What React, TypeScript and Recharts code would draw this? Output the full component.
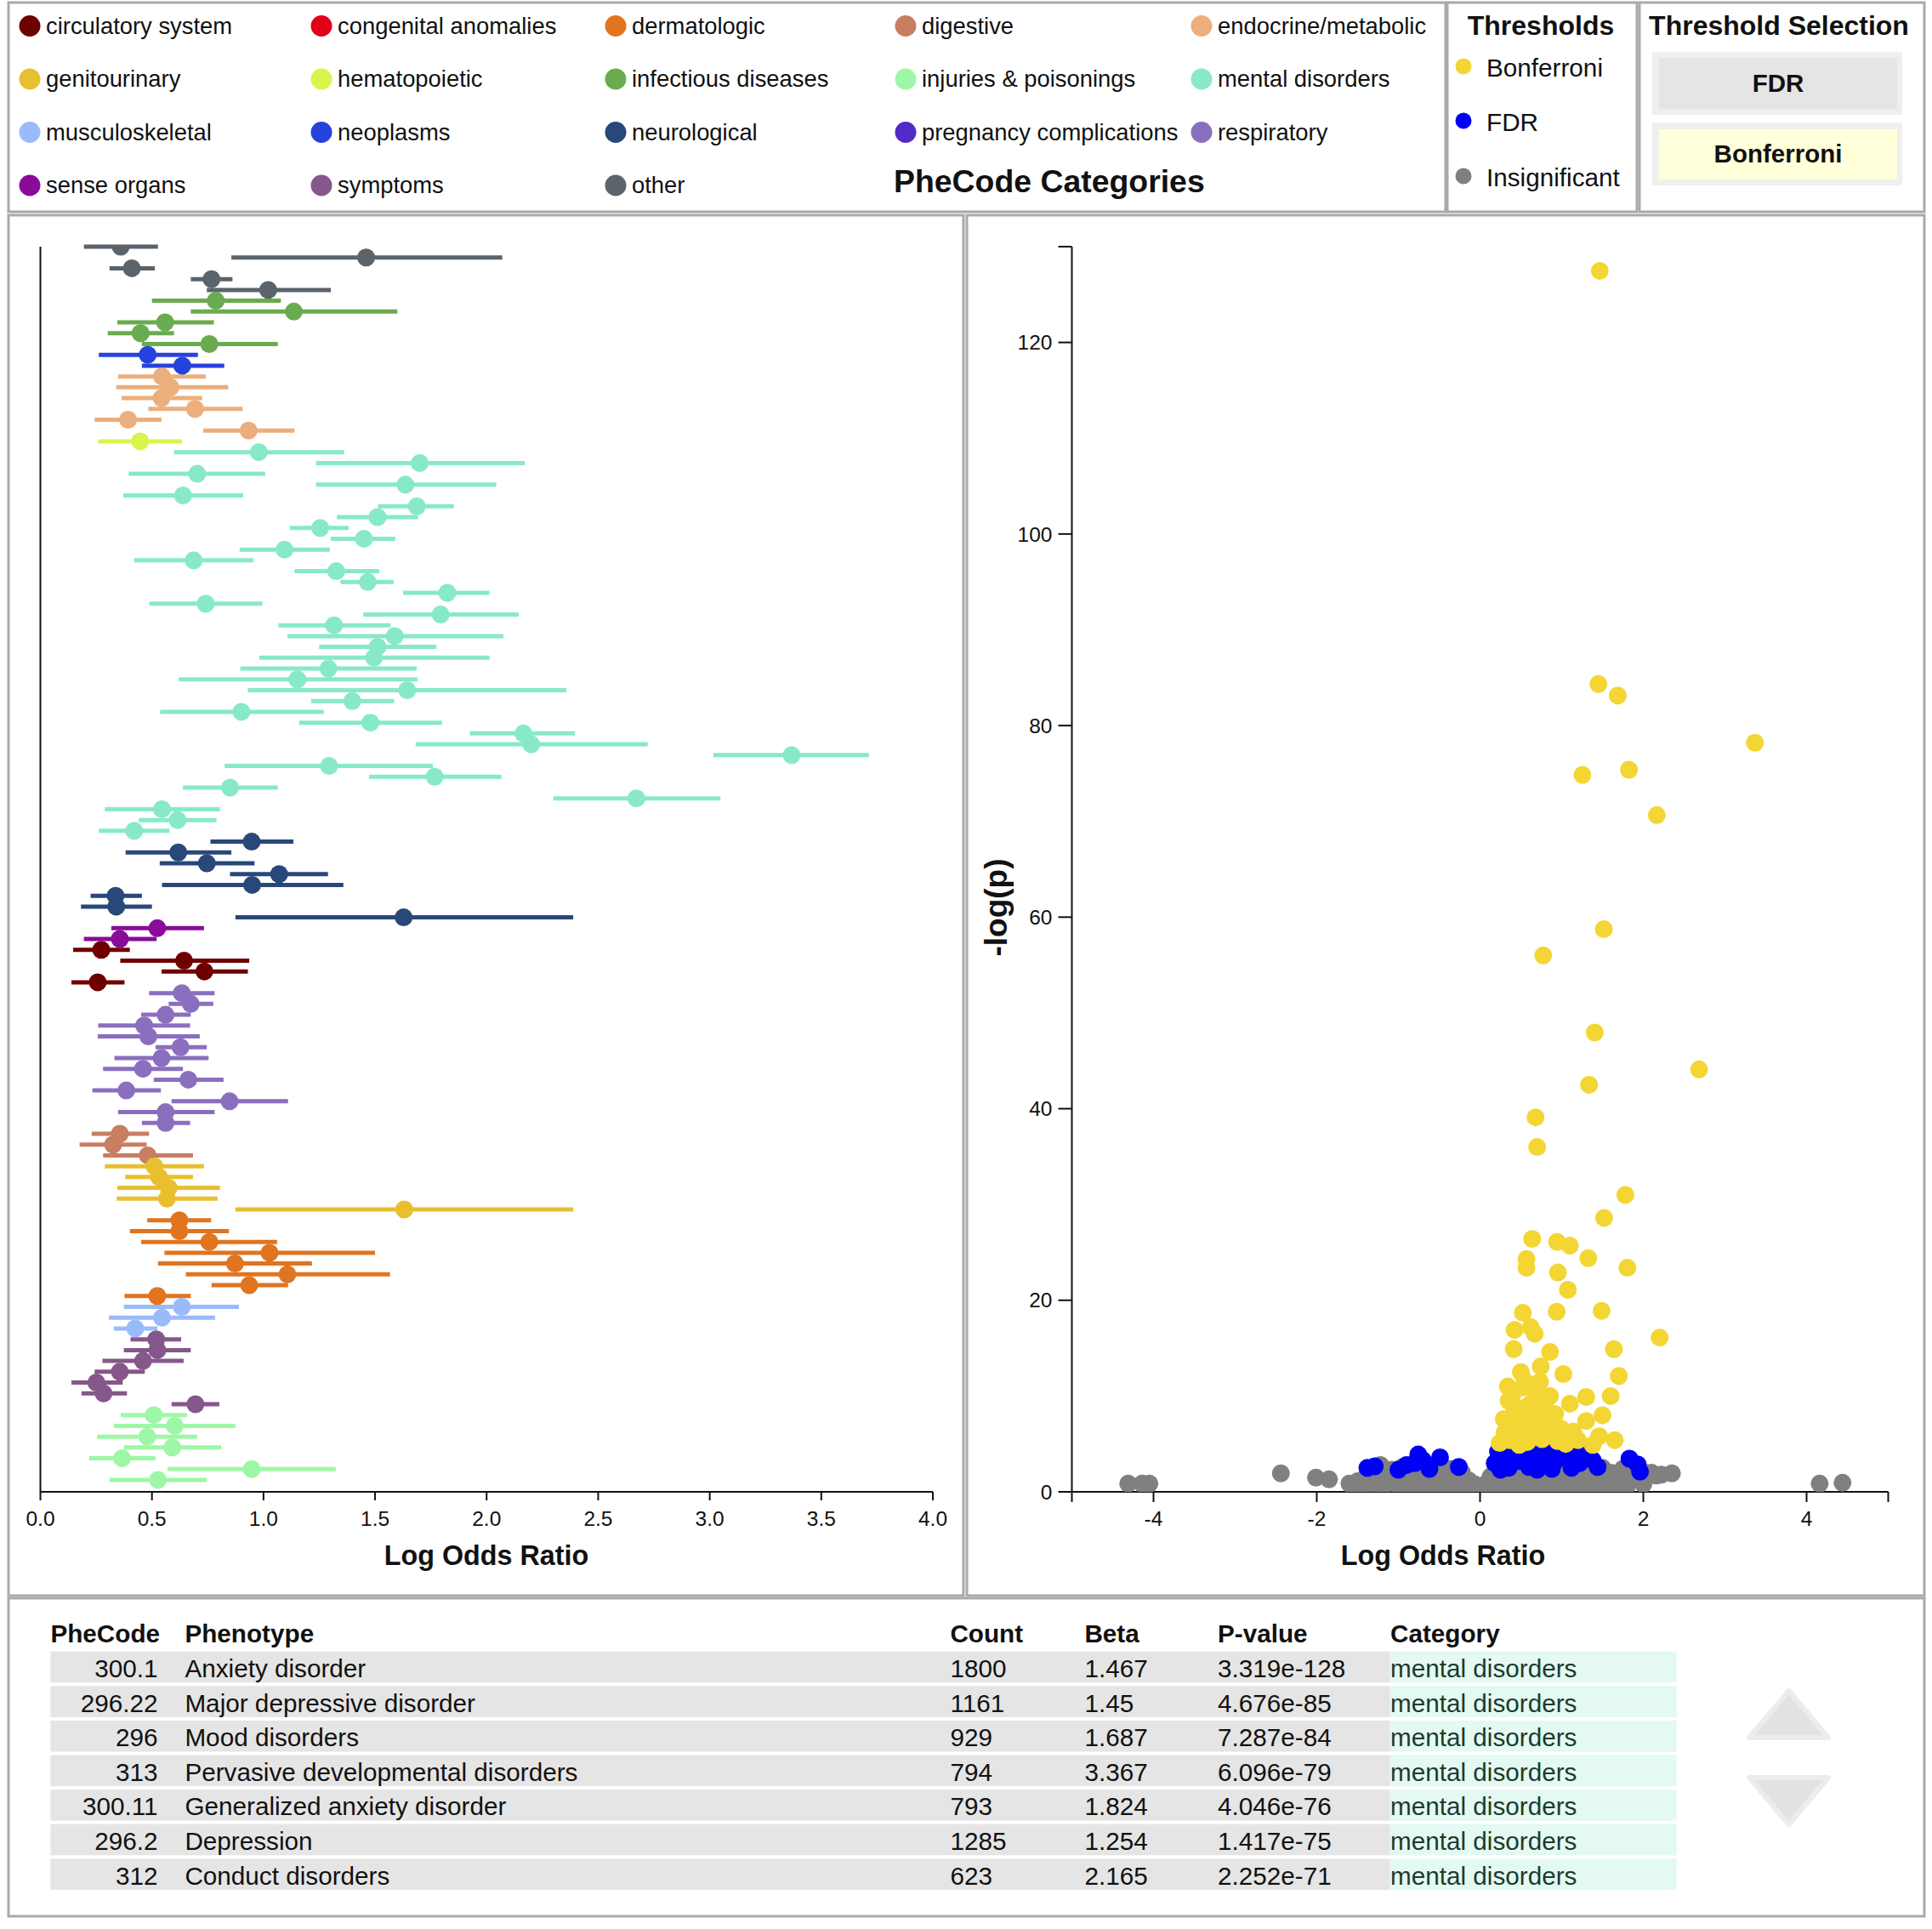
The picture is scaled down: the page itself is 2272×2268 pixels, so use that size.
import React from 'react';
import { ScatterChart, Scatter, XAxis, YAxis, ErrorBar } from 'recharts';

const FONT = '"Liberation Sans", Arial, Helvetica, sans-serif';
const INK = '#111111';

// ---------- categories ----------
const categoryNames = [
  'circulatory system', 'congenital anomalies', 'dermatologic', 'digestive', 'endocrine/metabolic',
  'genitourinary', 'hematopoietic', 'infectious diseases', 'injuries & poisonings', 'mental disorders',
  'musculoskeletal', 'neoplasms', 'neurological', 'pregnancy complications', 'respiratory',
  'sense organs', 'symptoms', 'other',
];
const categoryColors = [
  '#6e0000', '#e00018', '#e0741f', '#c87e63', '#ecae7c',
  '#e8bf2f', '#d7f54a', '#6aab50', '#9ef7a6', '#87e9ca',
  '#99bbfb', '#2543dc', '#28487a', '#522ac8', '#8b6fbf',
  '#8a0a99', '#86578a', '#5b636b',
];

// ---------- forest plot rows (top to bottom) ----------
const forestCategory = [
  'other', 'other', 'other', 'other', 'other',
  'infectious diseases', 'infectious diseases', 'infectious diseases', 'infectious diseases', 'infectious diseases',
  'neoplasms', 'neoplasms',
  'endocrine/metabolic', 'endocrine/metabolic', 'endocrine/metabolic', 'endocrine/metabolic', 'endocrine/metabolic', 'endocrine/metabolic',
  'hematopoietic',
  'mental disorders', 'mental disorders', 'mental disorders', 'mental disorders', 'mental disorders', 'mental disorders',
  'mental disorders', 'mental disorders', 'mental disorders', 'mental disorders', 'mental disorders', 'mental disorders',
  'mental disorders', 'mental disorders', 'mental disorders', 'mental disorders', 'mental disorders', 'mental disorders',
  'mental disorders', 'mental disorders', 'mental disorders', 'mental disorders', 'mental disorders', 'mental disorders',
  'mental disorders', 'mental disorders', 'mental disorders', 'mental disorders', 'mental disorders', 'mental disorders',
  'mental disorders', 'mental disorders', 'mental disorders', 'mental disorders', 'mental disorders', 'mental disorders',
  'neurological', 'neurological', 'neurological', 'neurological', 'neurological', 'neurological', 'neurological', 'neurological',
  'sense organs', 'sense organs',
  'circulatory system', 'circulatory system', 'circulatory system', 'circulatory system',
  'respiratory', 'respiratory', 'respiratory', 'respiratory', 'respiratory', 'respiratory', 'respiratory',
  'respiratory', 'respiratory', 'respiratory', 'respiratory', 'respiratory', 'respiratory',
  'digestive', 'digestive', 'digestive',
  'genitourinary', 'genitourinary', 'genitourinary', 'genitourinary', 'genitourinary',
  'dermatologic', 'dermatologic', 'dermatologic', 'dermatologic', 'dermatologic', 'dermatologic', 'dermatologic', 'dermatologic',
  'musculoskeletal', 'musculoskeletal', 'musculoskeletal',
  'symptoms', 'symptoms', 'symptoms', 'symptoms', 'symptoms', 'symptoms', 'symptoms',
  'injuries & poisonings', 'injuries & poisonings', 'injuries & poisonings', 'injuries & poisonings',
  'injuries & poisonings', 'injuries & poisonings', 'injuries & poisonings',
];
const forestBeta = [
  0.36, 1.46, 0.41, 0.767, 1.021,
  0.786, 1.136, 0.559, 0.449, 0.757,
  0.481, 0.636,
  0.545, 0.583, 0.543, 0.693, 0.393, 0.933,
  0.447,
  0.979, 1.70, 0.703, 1.636, 0.639, 1.687, 1.511, 1.254, 1.45, 1.094, 0.687, 1.326,
  1.467, 1.824, 0.741, 1.794, 1.316, 1.588, 1.511, 1.495, 1.291, 1.152, 1.644, 1.398,
  0.901, 1.479, 2.165, 2.20, 3.367, 1.294, 1.767, 0.85, 2.671, 0.545, 0.615, 0.42,
  0.947, 0.618, 0.746, 1.07, 0.949, 0.337, 0.34, 1.628,
  0.524, 0.356,
  0.273, 0.644, 0.735, 0.257,
  0.634, 0.674, 0.561, 0.465, 0.484, 0.628, 0.543, 0.46, 0.663, 0.385, 0.848, 0.561, 0.561,
  0.356, 0.326, 0.481,
  0.511, 0.532, 0.575, 0.567, 1.631,
  0.623, 0.623, 0.757, 1.027, 0.872, 1.107, 0.936, 0.524,
  0.634, 0.545, 0.425,
  0.519, 0.524, 0.46, 0.356, 0.251, 0.283, 0.695,
  0.508, 0.602, 0.479, 0.591, 0.366, 0.947, 0.527,
];
const forestLow = [
  0.195, 0.856, 0.31, 0.674, 0.746,
  0.5, 0.674, 0.345, 0.302, 0.455,
  0.262, 0.455,
  0.348, 0.34, 0.364, 0.484, 0.243, 0.73,
  0.259,
  0.599, 1.235, 0.396, 1.235, 0.372, 1.513, 1.329, 1.118, 1.302, 0.893, 0.42, 1.139,
  1.345, 1.626, 0.489, 1.447, 1.067, 1.107, 1.249, 0.981, 0.896, 0.62, 0.93, 1.214,
  0.537, 1.16, 1.925, 1.682, 3.016, 0.826, 1.473, 0.639, 2.299, 0.289, 0.441, 0.262,
  0.762, 0.382, 0.535, 0.85, 0.545, 0.225, 0.182, 0.874,
  0.318, 0.195,
  0.147, 0.358, 0.543, 0.139,
  0.487, 0.575, 0.452, 0.259, 0.257, 0.516, 0.332, 0.281, 0.508, 0.233, 0.588, 0.348, 0.455,
  0.23, 0.176, 0.281,
  0.289, 0.38, 0.345, 0.342, 0.874,
  0.479, 0.401, 0.452, 0.556, 0.527, 0.652, 0.767, 0.377,
  0.374, 0.307, 0.329,
  0.404, 0.374, 0.278, 0.243, 0.139, 0.184, 0.588,
  0.36, 0.329, 0.254, 0.374, 0.219, 0.57, 0.31,
];
const forestHigh = [
  0.527, 2.07, 0.513, 0.861, 1.302,
  1.078, 1.6, 0.778, 0.599, 1.064,
  0.706, 0.824,
  0.741, 0.842, 0.725, 0.906, 0.543, 1.139,
  0.634,
  1.361, 2.171, 1.008, 2.043, 0.909, 1.853, 1.693, 1.382, 1.591, 1.297, 0.955, 1.519,
  1.583, 2.013, 0.995, 2.144, 1.57, 2.075, 1.775, 2.013, 1.687, 1.69, 2.358, 1.586,
  1.27, 1.8, 2.396, 2.722, 3.714, 1.759, 2.067, 1.064, 3.048, 0.805, 0.789, 0.578,
  1.134, 0.856, 0.96, 1.289, 1.358, 0.455, 0.5, 2.388,
  0.733, 0.521,
  0.401, 0.936, 0.93, 0.377,
  0.781, 0.775, 0.674, 0.671, 0.714, 0.746, 0.754, 0.639, 0.821, 0.54, 1.11, 0.781, 0.671,
  0.487, 0.476, 0.684,
  0.733, 0.684, 0.805, 0.794, 2.388,
  0.765, 0.845, 1.061, 1.5, 1.217, 1.567, 1.11, 0.674,
  0.89, 0.783, 0.524,
  0.631, 0.674, 0.642, 0.468, 0.369, 0.388, 0.802,
  0.658, 0.874, 0.703, 0.81, 0.516, 1.324, 0.746,
];
const forestTicks = [0, 0.5, 1, 1.5, 2, 2.5, 3, 3.5, 4];

// ---------- volcano plot ----------
const volcanoBonferroni: [number, number][] = [
  [1.467, 127.48], [1.45, 84.33], [1.687, 83.14], [3.367, 78.21], [1.824, 75.39], [1.254, 74.85], [2.165, 70.65],
  [1.516, 58.75], [0.774, 56.0], [1.405, 47.96], [2.683, 44.1], [1.336, 42.5], [0.68, 39.1], [0.70, 36.0],
  [1.78, 31.0], [1.52, 28.6], [0.638, 26.4], [0.944, 26.1], [1.10, 25.7], [1.326, 24.4], [0.569, 24.3],
  [0.569, 23.4], [0.954, 22.9], [1.805, 23.4], [1.076, 21.1], [0.524, 18.7], [0.94, 18.8], [1.489, 18.9],
  [2.20, 16.1], [0.423, 16.9], [0.62, 17.2], [0.67, 16.5], [0.413, 14.9], [0.857, 14.6], [1.64, 14.9],
  [0.744, 13.1], [1.02, 12.3], [1.70, 12.1], [0.545, 11.6], [0.735, 11.5], [0.525, 10.9], [0.70, 10.7],
  [0.857, 10.0], [1.30, 9.9], [1.60, 10.0], [0.69, 10.0], [0.35, 9.5], [0.42, 8.8], [0.55, 8.8], [0.73, 8.4],
  [1.50, 8.0], [0.29, 7.6], [0.60, 7.8], [0.45, 7.2], [1.30, 7.4], [0.99, 6.6], [1.14, 6.3], [1.46, 5.8],
  [1.65, 5.4], [0.24, 5.1], [0.40, 6.5], [0.52, 6.0], [0.65, 6.8], [0.80, 7.0], [0.88, 6.0], [0.36, 5.4],
  [0.58, 5.2], [0.76, 5.5], [0.95, 5.3], [1.05, 5.0], [0.48, 4.9], [0.30, 6.2], [0.62, 9.2], [0.80, 9.0],
  [0.92, 8.1], [0.40, 10.2], [0.50, 12.5], [0.34, 11.0], [1.10, 9.2], [1.20, 5.4], [1.38, 4.9],
];
const volcanoFdr: [number, number][] = [
  [-1.38, 2.5], [-1.29, 2.66], [-0.80, 3.0], [-0.757, 3.9], [-0.70, 3.3], [-0.49, 3.6], [-0.26, 2.6],
  [-0.62, 2.4], [-1.0, 2.3], [-0.90, 2.8],
  [0.18, 3.0], [0.22, 4.2], [0.30, 3.6], [0.38, 4.5], [0.45, 3.2], [0.52, 4.0], [0.58, 4.8], [0.65, 3.4],
  [0.72, 4.4], [0.78, 3.8], [0.85, 4.6], [0.92, 3.2], [1.0, 4.1], [1.08, 3.5], [1.15, 4.3], [1.22, 3.0],
  [1.30, 3.8], [1.38, 3.3], [1.44, 2.6], [0.35, 2.5], [0.60, 2.6], [0.88, 2.4], [1.12, 2.5],
  [1.83, 3.46], [1.93, 2.87], [1.96, 2.1], [0.25, 2.3], [0.70, 2.3],
];
const volcanoInsignificant: [number, number][] = [
  [-4.31, 0.86], [-4.14, 0.86], [-4.05, 0.86], [4.16, 0.86], [4.44, 0.95], [-2.44, 1.93], [-2.01, 1.48],
  [-1.85, 1.3], [-1.60, 0.87], [2.35, 1.93], [2.16, 1.7],
  [-1.55, 0.5], [-1.50, 1.1], [-1.45, 0.7], [-1.40, 1.5], [-1.35, 0.9], [-1.30, 2.0], [-1.25, 1.2],
  [-1.22, 2.8], [-1.18, 0.6], [-1.12, 1.7], [-1.08, 2.3], [-1.02, 0.8], [-0.98, 1.4], [-0.95, 2.6],
  [-0.90, 0.5], [-0.86, 1.9], [-0.82, 2.4], [-0.78, 1.0], [-0.74, 1.6], [-0.70, 0.4], [-0.66, 2.2],
  [-0.62, 1.3], [-0.58, 0.7], [-0.55, 2.6], [-0.50, 1.8], [-0.46, 0.3], [-0.42, 1.1], [-0.38, 2.4],
  [-0.35, 0.6], [-0.30, 1.5], [-0.26, 0.9], [-0.22, 2.0], [-0.18, 0.4], [-0.14, 1.2], [-0.10, 0.2],
  [-0.07, 0.8], [-0.04, 0.1], [-0.02, 0.4], [0.0, 0.05], [0.02, 0.3], [0.05, 0.15], [0.08, 0.9],
  [0.10, 0.3], [0.13, 1.6], [0.16, 0.6], [0.19, 2.4], [0.22, 0.3], [0.25, 1.2], [0.28, 2.0], [0.31, 0.7],
  [0.34, 2.6], [0.37, 1.5], [0.40, 0.4], [0.43, 2.2], [0.46, 1.0], [0.49, 2.7], [0.52, 0.6], [0.55, 1.8],
  [0.58, 0.3], [0.61, 2.4], [0.64, 1.3], [0.67, 0.8], [0.70, 2.6], [0.73, 1.6], [0.76, 0.4], [0.79, 2.1],
  [0.82, 1.1], [0.85, 2.8], [0.88, 0.6], [0.91, 1.9], [0.94, 0.9], [0.97, 2.5], [1.00, 1.4], [1.03, 0.5],
  [1.06, 2.2], [1.10, 1.0], [1.14, 2.7], [1.18, 0.7], [1.22, 1.8], [1.26, 2.4], [1.30, 1.2], [1.34, 0.6],
  [1.38, 2.1], [1.42, 1.5], [1.46, 0.8], [1.50, 2.5], [1.55, 1.3], [1.60, 2.0], [1.65, 0.9], [1.70, 1.7],
  [1.75, 2.4], [1.80, 1.1], [1.86, 1.9], [1.92, 1.4], [1.98, 2.2], [2.05, 1.6], [2.10, 2.0], [2.22, 1.8],
  [-0.6, 0.15], [-0.3, 0.05], [0.3, 0.1], [0.6, 0.2], [0.9, 0.25], [1.2, 0.35], [1.5, 0.5], [1.8, 0.6],
  [-0.9, 0.2], [-1.2, 0.35], [0.15, 0.05], [-0.15, 0.1], [0.45, 0.15], [0.75, 0.2], [1.05, 0.3],
  [1.35, 0.4], [1.65, 0.55], [2.0, 0.8],
];
const volcanoXTicks = [-5, -4, -2, 0, 2, 4, 5];
const volcanoYTicks = [0, 20, 40, 60, 80, 100, 120, 130];

// ---------- thresholds ----------
const thresholdNames = ['Bonferroni', 'FDR', 'Insignificant'];
const thresholdColors = ['#f3d634', '#0000f5', '#808080'];

// ---------- table ----------
const tablePhecode = ['300.1', '296.22', '296', '313', '300.11', '296.2', '312'];
const tablePhenotype = [
  'Anxiety disorder', 'Major depressive disorder', 'Mood disorders', 'Pervasive developmental disorders',
  'Generalized anxiety disorder', 'Depression', 'Conduct disorders',
];
const tableCount = ['1800', '1161', '929', '794', '793', '1285', '623'];
const tableBeta = ['1.467', '1.45', '1.687', '3.367', '1.824', '1.254', '2.165'];
const tablePvalue = ['3.319e-128', '4.676e-85', '7.287e-84', '6.096e-79', '4.046e-76', '1.417e-75', '2.252e-71'];
const tableCategory = [
  'mental disorders', 'mental disorders', 'mental disorders', 'mental disorders',
  'mental disorders', 'mental disorders', 'mental disorders',
];

// ---------- derived ----------
const colorOf = (name: string) => categoryColors[categoryNames.indexOf(name)];

const forestSeries = (() => {
  const order: string[] = [];
  forestCategory.forEach((c) => { if (!order.includes(c)) order.push(c); });
  return order.map((c) => ({
    name: c,
    color: colorOf(c),
    data: forestCategory
      .map((cat, i) => ({
        cat,
        row: i + 1,
        beta: forestBeta[i],
        err: [forestBeta[i] - forestLow[i], forestHigh[i] - forestBeta[i]],
      }))
      .filter((d) => d.cat === c),
  }));
})();

const toXY = (arr: [number, number][]) => arr.map(([x, y]) => ({ x, y }));

const dot = (color: string, r: number) => (props: any) =>
  props.cx == null ? <g /> : <circle cx={props.cx} cy={props.cy} r={r} fill={color} />;

const axisStroke = { stroke: INK, strokeWidth: 2 };
const tickStyle = { fill: INK, fontSize: 24.5, fontFamily: FONT };

function ForestChart() {
  return (
    <ScatterChart width={1118} height={1618} margin={{ top: 36, right: 33, bottom: 58, left: 0.5 }}>
      <XAxis
        type="number"
        dataKey="beta"
        domain={[0, 4]}
        ticks={forestTicks}
        interval={0}
        allowDataOverflow
        height={60}
        tickSize={10}
        tickMargin={13}
        tickFormatter={(v: number) => v.toFixed(1)}
        axisLine={axisStroke}
        tickLine={axisStroke}
        tick={tickStyle}
      />
      <YAxis
        type="number"
        dataKey="row"
        domain={[1, 116.1]}
        reversed
        allowDataOverflow
        width={35}
        tick={false}
        tickLine={false}
        axisLine={axisStroke}
      />
      {forestSeries.map((s) => (
        <Scatter key={s.name} name={s.name} data={s.data} isAnimationActive={false} shape={dot(s.color, 10.5)}>
          <ErrorBar
            dataKey="err"
            direction="x"
            width={0}
            stroke={s.color}
            strokeWidth={5}
            isAnimationActive={false}
          />
        </Scatter>
      ))}
    </ScatterChart>
  );
}

function VolcanoChart() {
  return (
    <ScatterChart width={1125} height={1618} margin={{ top: 36, right: 41.5, bottom: 58, left: 0.5 }}>
      <XAxis
        type="number"
        dataKey="x"
        domain={[-5, 5]}
        ticks={volcanoXTicks}
        interval={0}
        allowDataOverflow
        height={60}
        tickSize={12}
        tickMargin={11}
        tickFormatter={(v: number) => (Math.abs(v) === 5 ? '' : String(v))}
        axisLine={axisStroke}
        tickLine={axisStroke}
        tick={tickStyle}
      />
      <YAxis
        type="number"
        dataKey="y"
        domain={[0, 130]}
        ticks={volcanoYTicks}
        interval={0}
        allowDataOverflow
        width={123}
        tickSize={16}
        tickMargin={7}
        tickFormatter={(v: number) => (v === 130 ? '' : String(v))}
        axisLine={axisStroke}
        tickLine={axisStroke}
        tick={tickStyle}
      />
      <Scatter name="Insignificant" data={toXY(volcanoInsignificant)} isAnimationActive={false} shape={dot(thresholdColors[2], 10.5)} />
      <Scatter name="FDR" data={toXY(volcanoFdr)} isAnimationActive={false} shape={dot(thresholdColors[1], 10.5)} />
      <Scatter name="Bonferroni" data={toXY(volcanoBonferroni)} isAnimationActive={false} shape={dot(thresholdColors[0], 10.5)} />
    </ScatterChart>
  );
}

const legendColX = [35, 378, 724, 1065, 1413];
const legendRowY = [30.5, 93, 155.5, 218];
const thresholdRowY = [78, 142, 207];
const tableRowTop = 1941.7;
const tableRowStep = 40.6;

const PANEL = '#a9a9a9';

export default function App() {
  return (
    <div style={{ position: 'absolute', left: 0, top: 0, width: 2272, height: 2268, background: '#ffffff', overflow: 'hidden' }}>
      <svg width={2272} height={2268} style={{ position: 'absolute', left: 0, top: 0 }} fontFamily={FONT}>
        {/* panel frames */}
        <rect x={10} y={3} width={1690} height={246} fill="none" stroke={PANEL} strokeWidth={3} />
        <rect x={1702} y={3} width={223} height={246} fill="none" stroke={PANEL} strokeWidth={3} />
        <rect x={1928} y={3} width={335} height={246} fill="none" stroke={PANEL} strokeWidth={3} />
        <rect x={10} y={253} width={1123} height={1623} fill="none" stroke={PANEL} strokeWidth={3} />
        <rect x={1137} y={253} width={1126} height={1623} fill="none" stroke={PANEL} strokeWidth={3} />
        <rect x={10} y={1879} width={2253} height={374} fill="none" stroke={PANEL} strokeWidth={3} />

        {/* category legend */}
        {categoryNames.map((name, i) => {
          const cx = legendColX[i % 5];
          const cy = legendRowY[Math.floor(i / 5)];
          return (
            <g key={name}>
              <circle cx={cx} cy={cy} r={12.5} fill={categoryColors[i]} />
              <text x={cx + 19} y={cy + 9} fontSize={27.4} fill={INK}>{name}</text>
            </g>
          );
        })}
        <text x={1051} y={226} fontSize={37.4} fontWeight="bold" fill={INK}>PheCode Categories</text>

        {/* thresholds legend */}
        <text x={1812} y={41} fontSize={32} fontWeight="bold" fill={INK} textAnchor="middle">Thresholds</text>
        {thresholdNames.map((name, i) => (
          <g key={name}>
            <circle cx={1721} cy={thresholdRowY[i]} r={9.5} fill={thresholdColors[i]} />
            <text x={1748} y={thresholdRowY[i] + 12} fontSize={29.7} fill={INK}>{name}</text>
          </g>
        ))}

        {/* threshold selection */}
        <text x={2092} y={41} fontSize={32} fontWeight="bold" fill={INK} textAnchor="middle">Threshold Selection</text>
        <rect x={1943} y={61} width={294} height={74} fill="#efefef" />
        <rect x={1951} y={68} width={280} height={60} fill="#e5e5e5" />
        <text x={2091} y={108} fontSize={29.5} fontWeight="bold" fill={INK} textAnchor="middle">FDR</text>
        <rect x={1943} y={144} width={294} height={74} fill="#efefef" />
        <rect x={1951} y={152} width={280} height={59} fill="#ffffd9" />
        <text x={2091} y={191} fontSize={29.5} fontWeight="bold" fill={INK} textAnchor="middle">Bonferroni</text>

        {/* axis titles */}
        <text x={572} y={1840} fontSize={32.3} fontWeight="bold" fill={INK} textAnchor="middle">Log Odds Ratio</text>
        <text x={1697} y={1840} fontSize={32.3} fontWeight="bold" fill={INK} textAnchor="middle">Log Odds Ratio</text>
        <text transform="translate(1184,1067) rotate(-90)" x={0} y={0} fontSize={37} fontWeight="bold" fill={INK} textAnchor="middle">-log(p)</text>

        {/* table */}
        <text x={59.4} y={1930.7} fontSize={29.7} fontWeight="bold" fill={INK}>PheCode</text>
        <text x={217.4} y={1930.7} fontSize={29.7} fontWeight="bold" fill={INK}>Phenotype</text>
        <text x={1117.4} y={1930.7} fontSize={29.7} fontWeight="bold" fill={INK}>Count</text>
        <text x={1275.4} y={1930.7} fontSize={29.7} fontWeight="bold" fill={INK}>Beta</text>
        <text x={1432} y={1930.7} fontSize={29.7} fontWeight="bold" fill={INK}>P-value</text>
        <text x={1635} y={1930.7} fontSize={29.7} fontWeight="bold" fill={INK}>Category</text>
        {tablePhecode.map((code, i) => {
          const top = tableRowTop + i * tableRowStep;
          const base = top + 30.3;
          return (
            <g key={code}>
              <rect x={59.4} y={top} width={1575.4} height={36.6} fill="#e5e5e5" />
              <rect x={1634.8} y={top} width={336.9} height={36.6} fill="#e3f9f1" />
              <text x={185.5} y={base} fontSize={29.7} fill={INK} textAnchor="end">{code}</text>
              <text x={217.4} y={base} fontSize={29.7} fill={INK}>{tablePhenotype[i]}</text>
              <text x={1117.4} y={base} fontSize={29.7} fill={INK}>{tableCount[i]}</text>
              <text x={1275.4} y={base} fontSize={29.7} fill={INK}>{tableBeta[i]}</text>
              <text x={1432} y={base} fontSize={29.7} fill={INK}>{tablePvalue[i]}</text>
              <text x={1635} y={base} fontSize={29.7} fill="#1c3a30">{tableCategory[i]}</text>
            </g>
          );
        })}
        {/* scroll arrows */}
        <polygon points="2103.6,1988 2150,2043 2057.2,2043" fill="#e2e2e2" stroke="#ececec" strokeWidth={6} strokeLinejoin="round" />
        <polygon points="2057.2,2090 2150,2090 2103.6,2145" fill="#e2e2e2" stroke="#ececec" strokeWidth={6} strokeLinejoin="round" />
      </svg>

      <div style={{ position: 'absolute', left: 12, top: 254 }}>
        <ForestChart />
      </div>
      <div style={{ position: 'absolute', left: 1137, top: 254 }}>
        <VolcanoChart />
      </div>
    </div>
  );
}
